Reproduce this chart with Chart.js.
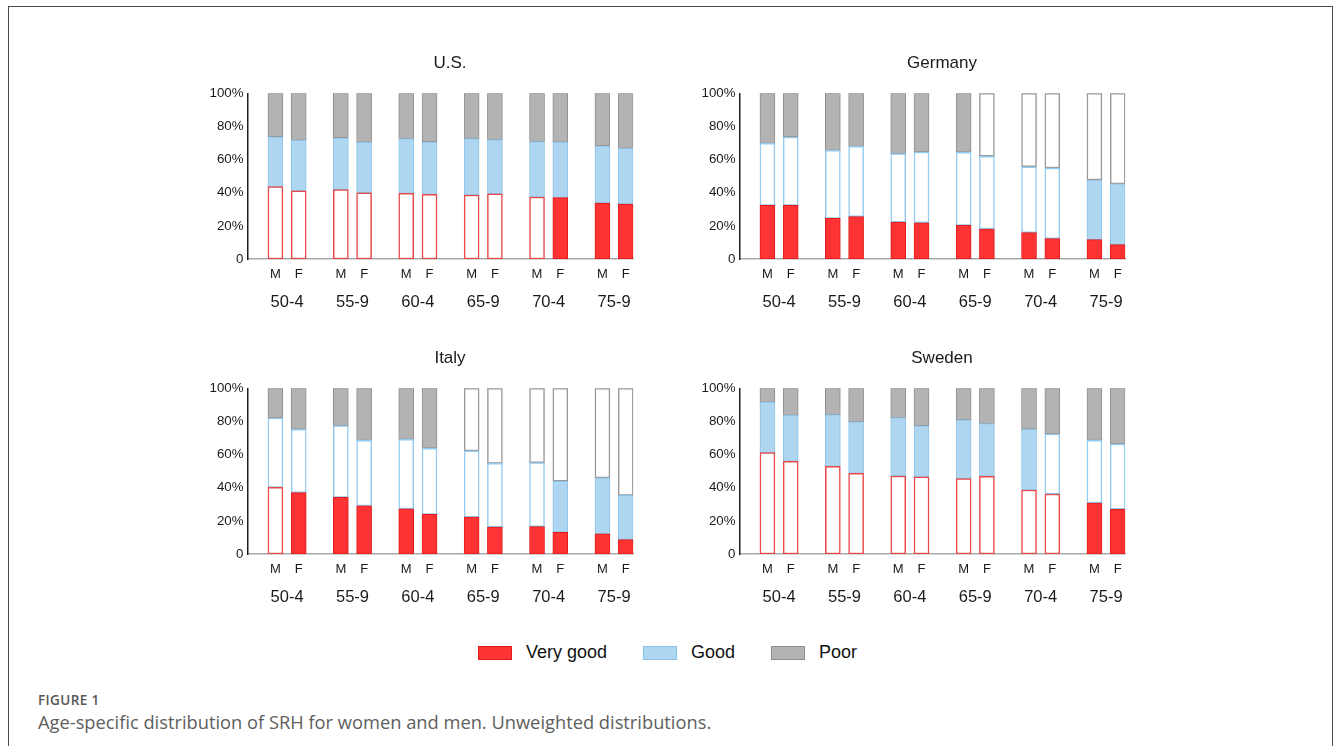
<!DOCTYPE html>
<html>
<head>
<meta charset="utf-8">
<script src="https://cdn.jsdelivr.net/npm/chart.js@4/dist/chart.umd.min.js"></script>
<style>
  html, body { margin: 0; padding: 0; background: #fff; }
  body { width: 1335px; height: 746px; position: relative; overflow: hidden;
         font-family: "Liberation Sans", Arial, sans-serif; }
  #frame { position: absolute; left: 8px; top: 6px; width: 1325px; height: 800px;
           border: 1.5px solid #4a4a4a; border-bottom: none; box-sizing: border-box; }
  .panel { position: absolute; width: 520px; height: 280px; }
  .panel canvas { display: block; }
  #legend { position: absolute; left: 0; top: 642px; width: 1335px; display: flex;
            justify-content: center; align-items: center; font-size: 18px; color: #111; }
  .item { display: flex; align-items: center; margin: 0 18px; }
  .swatch { width: 34px; height: 14px; box-sizing: border-box; border: 1.5px solid; margin-right: 14px; }
  #fig { position: absolute; left: 38px; top: 691px; font-family: "Open Sans", sans-serif;
         font-size: 13.5px; font-weight: 600; letter-spacing: 0.4px; color: #555; }
  #cap { position: absolute; left: 38px; top: 709px; font-family: "Open Sans", sans-serif;
         font-size: 18.3px; color: #5e5e5e; }
</style>
</head>
<body>
<div id="frame"></div>
<div class="panel" style="left:190px;top:40px"><canvas id="c-us" width="520" height="280"></canvas></div>
<div class="panel" style="left:682px;top:40px"><canvas id="c-de" width="520" height="280"></canvas></div>
<div class="panel" style="left:190px;top:335px"><canvas id="c-it" width="520" height="280"></canvas></div>
<div class="panel" style="left:682px;top:335px"><canvas id="c-se" width="520" height="280"></canvas></div>
<div id="legend"></div>
<div id="fig">FIGURE 1</div>
<div id="cap">Age-specific distribution of SRH for women and men. Unweighted distributions.</div>

<script>
// Age groups and sexes; each group holds a male and a female bar (M, F order).
const ageGroups = ['50-4', '55-9', '60-4', '65-9', '70-4', '75-9'];
const sexes = ['M', 'F'];
const healthLevels = ['Very good', 'Good', 'Poor'];
const yTicks = [0, 20, 40, 60, 80, 100];

// Shares in percent, order: M50-4, F50-4, M55-9, F55-9, ... M75-9, F75-9
const usVeryGood = [43.7, 41.2, 41.9, 40.0, 39.6, 39.0, 38.6, 39.4, 37.4, 37.0, 33.8, 33.2];
const usGood     = [30.1, 30.4, 31.1, 30.4, 33.0, 31.6, 34.0, 32.6, 33.4, 33.4, 34.4, 33.6];
const usPoor     = [26.2, 28.4, 27.0, 29.6, 27.4, 29.4, 27.4, 28.0, 29.2, 29.6, 31.8, 33.2];

const deVeryGood = [32.4, 32.4, 24.5, 25.6, 22.3, 21.9, 20.3, 18.1, 15.9, 12.3, 11.7, 8.7];
const deGood     = [37.4, 41.2, 41.1, 42.4, 41.3, 42.7, 44.1, 43.9, 39.8, 42.6, 36.0, 36.6];
const dePoor     = [30.2, 26.4, 34.4, 32.0, 36.4, 35.4, 35.6, 38.0, 44.3, 45.1, 52.3, 54.7];

const itVeryGood = [40.2, 37.0, 34.2, 29.0, 27.2, 23.9, 22.3, 16.3, 16.5, 13.1, 12.1, 8.7];
const itGood     = [41.9, 38.3, 43.3, 39.6, 42.0, 39.9, 39.9, 38.4, 38.6, 30.8, 33.8, 26.7];
const itPoor     = [17.9, 24.7, 22.5, 31.4, 30.8, 36.2, 37.8, 45.3, 44.9, 56.1, 54.1, 64.6];

const seVeryGood = [61.2, 55.9, 52.9, 48.7, 47.1, 46.5, 45.5, 46.9, 38.6, 36.2, 30.8, 27.0];
const seGood     = [30.3, 27.8, 31.2, 31.0, 35.2, 30.8, 35.4, 31.8, 36.7, 36.2, 37.8, 39.4];
const sePoor     = [8.5, 16.3, 15.9, 20.3, 17.7, 22.7, 19.1, 21.3, 24.7, 27.6, 31.4, 33.6];

// 1 = solid segment, 0 = outlined segment
const usVeryGoodSolid = [0, 0, 0, 0, 0, 0, 0, 0, 0, 1, 1, 1];
const usGoodSolid     = [1, 1, 1, 1, 1, 1, 1, 1, 1, 1, 1, 1];
const usPoorSolid     = [1, 1, 1, 1, 1, 1, 1, 1, 1, 1, 1, 1];

const deVeryGoodSolid = [1, 1, 1, 1, 1, 1, 1, 1, 1, 1, 1, 1];
const deGoodSolid     = [0, 0, 0, 0, 0, 0, 0, 0, 0, 0, 1, 1];
const dePoorSolid     = [1, 1, 1, 1, 1, 1, 1, 0, 0, 0, 0, 0];

const itVeryGoodSolid = [0, 1, 1, 1, 1, 1, 1, 1, 1, 1, 1, 1];
const itGoodSolid     = [0, 0, 0, 0, 0, 0, 0, 0, 0, 1, 1, 1];
const itPoorSolid     = [1, 1, 1, 1, 1, 1, 0, 0, 0, 0, 0, 0];

const seVeryGoodSolid = [0, 0, 0, 0, 0, 0, 0, 0, 0, 0, 1, 1];
const seGoodSolid     = [1, 1, 1, 1, 1, 1, 1, 1, 1, 0, 0, 0];
const sePoorSolid     = [1, 1, 1, 1, 1, 1, 1, 1, 1, 1, 1, 1];

// Segment colours: fill, edge of a solid bar, edge of an outlined bar
const palette = [
  { fill: '#ff3333', edge: '#df1c1c', outline: '#ea4848' },
  { fill: '#aed6f1', edge: '#8cc3ea', outline: '#95cbf0' },
  { fill: '#b3b3b3', edge: '#8e8e8e', outline: '#999999' }
];

const TEXT = '#1a1a1a';
const FONT = '"Liberation Sans", Arial, sans-serif';

// Horizontal layout in age-group units: group i is centred at x = i,
// its male bar sits just left of the centre and its female bar just right.
const pairOffset = 0.178;
const xMin = -0.605, xMax = 5.294;
const barX = ageGroups.flatMap((g, i) => sexes.map((s, j) => i + (j === 0 ? -pairOffset : pairOffset)));
const groupX = ageGroups.map((g, i) => i);

function makePanel(id, title, series, solids) {
  const datasets = series.map((vals, k) => {
    const p = palette[k];
    const solid = solids[k];
    return {
      label: healthLevels[k],
      data: vals.map((v, i) => ({ x: barX[i], y: v })),
      backgroundColor: solid.map(f => f ? p.fill : '#ffffff'),
      borderColor: solid.map(f => f ? p.edge : p.outline),
      borderWidth: solid.map(f => f ? 1 : 1.5),
      borderSkipped: false,
      barThickness: 15,
      xAxisID: 'x',
      yAxisID: 'y'
    };
  });

  new Chart(document.getElementById(id), {
    type: 'bar',
    data: { datasets },
    options: {
      responsive: false,
      animation: false,
      devicePixelRatio: 1,
      layout: { padding: { left: 0, right: 0, top: 0, bottom: 11 } },
      plugins: {
        legend: { display: false },
        tooltip: { enabled: false },
        title: {
          display: true, text: title, color: TEXT,
          font: { family: FONT, size: 17, weight: 'normal' },
          padding: { top: 12.8, bottom: 20.1 }
        }
      },
      scales: {
        x: {
          type: 'linear', position: 'bottom', stacked: true, offset: false,
          min: xMin, max: xMax, weight: 0,
          grid: { display: false, drawTicks: false },
          border: { display: true, color: '#a9a9a9', width: 1.5 },
          afterBuildTicks: s => { s.ticks = barX.map(v => ({ value: v })); },
          afterFit: s => { s.height = 20; },
          ticks: {
            autoSkip: false, maxRotation: 0, padding: 8, color: TEXT,
            font: { family: FONT, size: 13 },
            callback: (v, i) => sexes[i % sexes.length]
          }
        },
        x2: {
          type: 'linear', position: 'bottom', offset: false,
          min: xMin, max: xMax, weight: 1,
          grid: { display: false, drawTicks: false },
          border: { display: false },
          afterBuildTicks: s => { s.ticks = groupX.map(v => ({ value: v })); },
          afterFit: s => { s.height = 30; },
          ticks: {
            autoSkip: false, maxRotation: 0, padding: 14, color: TEXT,
            font: { family: FONT, size: 16.5 },
            callback: (v, i) => ageGroups[i]
          }
        },
        y: {
          stacked: true, min: 0, max: 100, position: 'left',
          grid: { display: false, drawTicks: false },
          border: { display: true, color: '#1f1f1f', width: 1.5 },
          afterBuildTicks: s => { s.ticks = yTicks.map(v => ({ value: v })); },
          afterFit: s => { s.width = 57.5; },
          ticks: {
            padding: 4, color: TEXT,
            font: { family: FONT, size: 13.3 },
            callback: v => (v === 0 ? '0' : v + '%')
          }
        },
        // empty right-hand margin so the title sits over the whole panel
        yR: {
          position: 'right', min: 0, max: 100,
          grid: { display: false, drawTicks: false },
          border: { display: false },
          ticks: { display: false },
          afterFit: s => { s.width = 76.7; }
        }
      }
    }
  });
}

makePanel('c-us', 'U.S.', [usVeryGood, usGood, usPoor], [usVeryGoodSolid, usGoodSolid, usPoorSolid]);
makePanel('c-de', 'Germany', [deVeryGood, deGood, dePoor], [deVeryGoodSolid, deGoodSolid, dePoorSolid]);
makePanel('c-it', 'Italy', [itVeryGood, itGood, itPoor], [itVeryGoodSolid, itGoodSolid, itPoorSolid]);
makePanel('c-se', 'Sweden', [seVeryGood, seGood, sePoor], [seVeryGoodSolid, seGoodSolid, sePoorSolid]);

// Shared legend under the four panels
const legend = document.getElementById('legend');
healthLevels.forEach((name, k) => {
  const item = document.createElement('div');
  item.className = 'item';
  const sw = document.createElement('span');
  sw.className = 'swatch';
  sw.style.background = palette[k].fill;
  sw.style.borderColor = palette[k].edge;
  const label = document.createElement('span');
  label.textContent = name;
  item.appendChild(sw);
  item.appendChild(label);
  legend.appendChild(item);
});
</script>
</body>
</html>
